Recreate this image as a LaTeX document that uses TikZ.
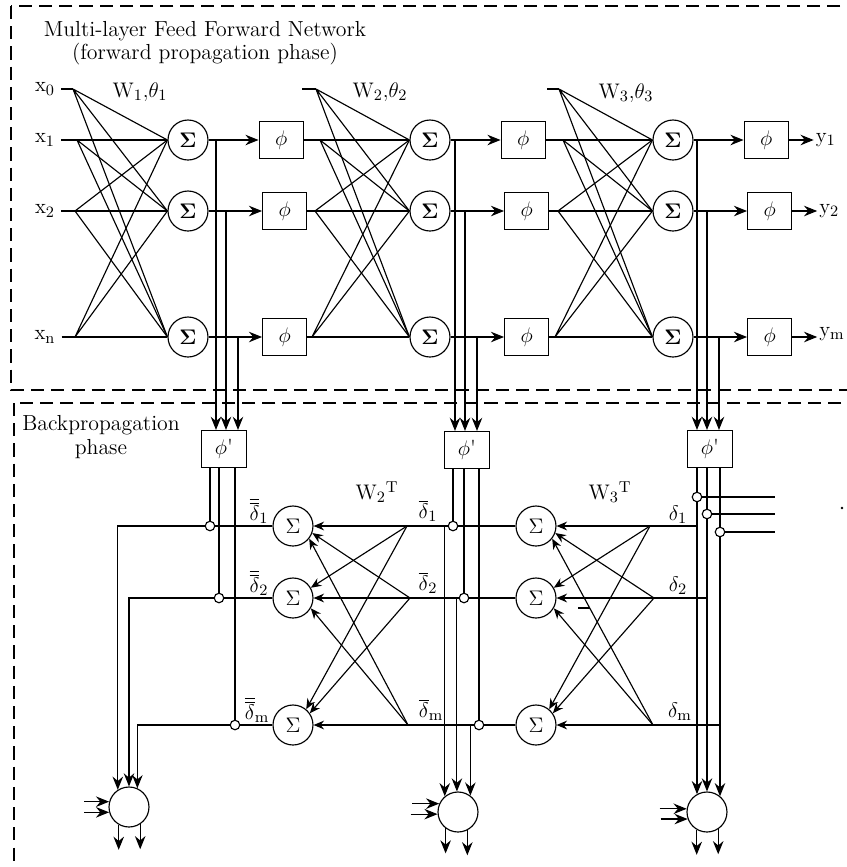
\documentclass[tikz,border=0pt]{standalone}
\usepackage{tikz}
\usetikzlibrary{arrows.meta,positioning,calc}
\tikzstyle{sumnode} = [circle, draw, line width=0.65pt, minimum size=0.8cm, inner sep=0pt]
\tikzstyle{actnode} = [rectangle, draw, line width=0.65pt, minimum width=0.88cm, minimum height=0.74cm, inner sep=0pt]
\tikzstyle{dernode} = [actnode, minimum width=0.9cm]
\tikzstyle{mulnode} = [circle, draw, line width=0.65pt, minimum size=0.19cm, inner sep=0pt]
\tikzstyle{updnode} = [circle, draw, line width=0.65pt, minimum size=0.8cm, inner sep=0pt]
\tikzstyle{link} = [line width=0.65pt]
\tikzstyle{flow} = [line width=0.65pt, -{Stealth[length=7.5pt,width=6pt,inset=2.5pt]}]
\tikzstyle{backflow} = [line width=0.65pt, -{Stealth[length=6pt,width=5pt,inset=2pt]}]
\tikzstyle{phasebox} = [line width=0.65pt, dash pattern=on 7.5pt off 4pt]

\begin{document}
\begin{tikzpicture}[x=0.02cm, y=-0.02cm, font=\fontsize{12.4}{13.4}\selectfont]
\useasboundingbox (0,0) rectangle (847,867);

% Phase frames
\draw[phasebox] (11,6) rectangle (870,390);
\draw[phasebox] (14,403) rectangle (870,890);

% Title
\node[align=center] (title) at (205,43) {Multi-layer Feed Forward Network\\(forward propagation phase)};

% Inputs
\node (x0) at (45,89) {$\mathrm{x}_0$};
\node (x1) at (45,140) {$\mathrm{x}_1$};
\node (x2) at (45,211) {$\mathrm{x}_2$};
\node (xn) at (45,337) {$\mathrm{x}_\mathrm{n}$};
\coordinate (fan10) at (73,89);
\coordinate (fan11) at (77,140);
\coordinate (fan12) at (75,211);
\coordinate (fan13) at (75,337);

% Layer 1
\node[sumnode] (sum11) at (188,140) {$\mathbf{\Sigma}$};
\node[sumnode] (sum12) at (188,211) {$\mathbf{\Sigma}$};
\node[sumnode] (sum13) at (188,337) {$\mathbf{\Sigma}$};
\node[actnode, right=1cm of sum11] (phi11) {$\phi$};
\node[actnode, right=1.07cm of sum12] (phi12) {$\phi$};
\node[actnode, right=1.07cm of sum13] (phi13) {$\phi$};
\node (w1) at (140,92) {$\mathrm{W}_1{,}\theta_1$};

\draw[link] (x0) -- (fan10);
\draw[link] (x1) -- (sum11);
\draw[link] (x2) -- (sum12);
\draw[link] (xn) -- (sum13);
\draw[link] (fan10) -- (sum11.west) (fan10) -- (sum12.west) (fan10) -- (sum13.west);
\draw[link] (fan11) -- (sum12.west) (fan11) -- (sum13.west);
\draw[link] (fan12) -- (sum11.west) (fan12) -- (sum13.west);
\draw[link] (fan13) -- (sum11.west) (fan13) -- (sum12.west);
\draw[flow] (sum11) -- (phi11);
\draw[flow] (sum12) -- (phi12);
\draw[flow] (sum13) -- (phi13);

% Layer 2
\coordinate (bias2) at (302,89);
\coordinate (fan20) at (316,89);
\coordinate (fan21) at (320,140);
\coordinate (fan22) at (315,211);
\coordinate (fan23) at (312,337);
\node[sumnode] (sum21) at (430,140) {$\mathbf{\Sigma}$};
\node[sumnode] (sum22) at (430,211) {$\mathbf{\Sigma}$};
\node[sumnode] (sum23) at (430,337) {$\mathbf{\Sigma}$};
\node[actnode, right=1cm of sum21] (phi21) {$\phi$};
\node[actnode, right=1.07cm of sum22] (phi22) {$\phi$};
\node[actnode, right=1.07cm of sum23] (phi23) {$\phi$};
\node (w2) at (380,92) {$\mathrm{W}_2{,}\theta_2$};

\draw[link] (bias2) -- (fan20);
\draw[link] (phi11) -- (sum21);
\draw[link] (phi12) -- (sum22);
\draw[link] (phi13) -- (sum23);
\draw[link] (fan20) -- (sum21.west) (fan20) -- (sum22.west) (fan20) -- (sum23.west);
\draw[link] (fan21) -- (sum22.west) (fan21) -- (sum23.west);
\draw[link] (fan22) -- (sum21.west) (fan22) -- (sum23.west);
\draw[link] (fan23) -- (sum21.west) (fan23) -- (sum22.west);
\draw[flow] (sum21) -- (phi21);
\draw[flow] (sum22) -- (phi22);
\draw[flow] (sum23) -- (phi23);

% Layer 3
\coordinate (bias3) at (547,89);
\coordinate (fan30) at (559,89);
\coordinate (fan31) at (563,140);
\coordinate (fan32) at (558,211);
\coordinate (fan33) at (555,337);
\node[sumnode] (sum31) at (673,140) {$\mathbf{\Sigma}$};
\node[sumnode] (sum32) at (673,211) {$\mathbf{\Sigma}$};
\node[sumnode] (sum33) at (673,337) {$\mathbf{\Sigma}$};
\node[actnode, right=1cm of sum31] (phi31) {$\phi$};
\node[actnode, right=1.07cm of sum32] (phi32) {$\phi$};
\node[actnode, right=1.07cm of sum33] (phi33) {$\phi$};
\node (w3) at (626,93) {$\mathrm{W}_3{,}\theta_3$};

\draw[link] (bias3) -- (fan30);
\draw[link] (phi21) -- (sum31);
\draw[link] (phi22) -- (sum32);
\draw[link] (phi23) -- (sum33);
\draw[link] (fan30) -- (sum31.west) (fan30) -- (sum32.west) (fan30) -- (sum33.west);
\draw[link] (fan31) -- (sum32.west) (fan31) -- (sum33.west);
\draw[link] (fan32) -- (sum31.west) (fan32) -- (sum33.west);
\draw[link] (fan33) -- (sum31.west) (fan33) -- (sum32.west);
\draw[flow] (sum31) -- (phi31);
\draw[flow] (sum32) -- (phi32);
\draw[flow] (sum33) -- (phi33);

% Outputs
\node[right=0.5cm of phi31, inner sep=1pt] (y1) {$\mathrm{y}_1$};
\node[right=0.5cm of phi32, inner sep=1pt] (y2) {$\mathrm{y}_2$};
\node[right=0.5cm of phi33, inner sep=1pt, yshift=0.06cm] (ym) {$\mathrm{y}_\mathrm{m}$};
\draw[flow] (phi31) -- (y1);
\draw[flow] (phi32) -- (y2);
\draw[flow] (phi33) -- (phi33 -| ym.west);

% Derivative boxes
\node[dernode] (dphi1) at (224,449) {$\phi$\textquotesingle};
\node[dernode] (dphi2) at (467,450) {$\phi$\textquotesingle};
\node[dernode] (dphi3) at (710,449) {$\phi$\textquotesingle};
\coordinate (tap11) at (216,140);
\coordinate (tap12) at (226,211);
\coordinate (tap13) at (238,337);
\coordinate (tap21) at (455,140);
\coordinate (tap22) at (465,211);
\coordinate (tap23) at (477,337);
\coordinate (tap31) at (697,140);
\coordinate (tap32) at (707,211);
\coordinate (tap33) at (719,337);
\draw[flow] (tap11) -- (tap11 |- dphi1.north);
\draw[flow] (tap12) -- (tap12 |- dphi1.north);
\draw[flow] (tap13) -- (tap13 |- dphi1.north);
\draw[flow] (tap21) -- (tap21 |- dphi2.north);
\draw[flow] (tap22) -- (tap22 |- dphi2.north);
\draw[flow] (tap23) -- (tap23 |- dphi2.north);
\draw[flow] (tap31) -- (tap31 |- dphi3.north);
\draw[flow] (tap32) -- (tap32 |- dphi3.north);
\draw[flow] (tap33) -- (tap33 |- dphi3.north);

% Backpropagation
\node[align=center] (backlbl) at (101,437) {Backpropagation\\phase};

\node[sumnode] (bs21) at (293,526) {$\Sigma$};
\node[sumnode] (bs22) at (293,598) {$\Sigma$};
\node[sumnode] (bs23) at (293,725) {$\Sigma$};
\node[sumnode] (bs31) at (536,526) {$\Sigma$};
\node[sumnode] (bs32) at (536,598) {$\Sigma$};
\node[sumnode] (bs33) at (536,725) {$\Sigma$};

\node[mulnode] (m11) at (210,526) {};
\node[mulnode] (m12) at (219,598) {};
\node[mulnode] (m13) at (235,725) {};
\node[mulnode] (m21) at (453,526) {};
\node[mulnode] (m22) at (464,598) {};
\node[mulnode] (m23) at (479,725) {};
\node[mulnode] (m31) at (697,497) {};
\node[mulnode] (m32) at (707,514) {};
\node[mulnode] (m33) at (720,532) {};

\node[updnode] (upd1) at (129,807) {};
\node[updnode] (upd2) at (458,812) {};
\node[updnode] (upd3) at (707,812) {};

\node (wt2) at (377,492) {$\mathrm{W}_2{}^\mathrm{T}$};
\node (wt3) at (610,492) {$\mathrm{W}_3{}^\mathrm{T}$};
\node (dd1) at (259,511) {$\overline{\overline{\delta}}_1$};
\node (dd2) at (259,583) {$\overline{\overline{\delta}}_2$};
\node (ddm) at (257,710) {$\overline{\overline{\delta}}_\mathrm{m}$};
\node (db1) at (428,511) {$\overline{\delta}_1$};
\node (db2) at (428,583) {$\overline{\delta}_2$};
\node (dbm) at (431,710) {$\overline{\delta}_\mathrm{m}$};
\node (d1) at (678,515) {$\delta_1$};
\node (d2) at (678,586) {$\delta_2$};
\node (dm) at (680,712) {$\delta_\mathrm{m}$};

% Output side derivative lines
\coordinate (err1) at (775,497);
\coordinate (err2) at (775,514);
\coordinate (err3) at (775,532);
\draw[link] (m31 |- dphi3.south) -- (m31);
\draw[link] (m32 |- dphi3.south) -- (m32);
\draw[link] (m33 |- dphi3.south) -- (m33);
\draw[link] (m31) -- (err1);
\draw[link] (m32) -- (err2);
\draw[link] (m33) -- (err3);
\draw[flow] (m31) -- (m31 |- upd3.120);
\draw[flow] (m32) -- (m32 |- upd3.90);
\draw[flow] (m33) -- (m33 |- upd3.50);
\draw[backflow] (m31 |- bs31) -- (bs31);
\draw[backflow] (m32 |- bs32) -- (bs32);
\draw[backflow] (m33 |- bs33) -- (bs33);

% W3 transpose
\coordinate (bf31) at (650,526);
\coordinate (bf32) at (654,598);
\coordinate (bf33) at (653,725);
\draw[backflow] (bf32) -- (bs31.-20);
\draw[backflow] (bf33) -- (bs31.-38);
\draw[backflow] (bf31) -- (bs32.30);
\draw[backflow] (bf33) -- (bs32.-30);
\draw[backflow] (bf31) -- (bs33.50);
\draw[backflow] (bf32) -- (bs33.35);

% Hidden layer 2 derivative lines
\draw[link] (m21 |- dphi2.south) -- (m21);
\draw[link] (m22 |- dphi2.south) -- (m22);
\draw[link] (m23 |- dphi2.south) -- (m23);
\draw[link] (bs31) -- (m21);
\draw[link] (bs32) -- (m22);
\draw[link] (bs33) -- (m23);
\draw[backflow] (m21) -- (bs21);
\draw[backflow] (m22) -- (bs22);
\draw[backflow] (m23) -- (bs23);
\draw[flow] (upd2.130 |- bs21) -- (upd2.130);
\draw[flow] (upd2.93 |- bs22) -- (upd2.93);
\draw[flow] (upd2.53 |- bs23) -- (upd2.53);

% W2 transpose
\coordinate (bf21) at (407,526);
\coordinate (bf22) at (410,598);
\coordinate (bf23) at (408,725);
\draw[backflow] (bf22) -- (bs21.-20);
\draw[backflow] (bf23) -- (bs21.-38);
\draw[backflow] (bf21) -- (bs22.30);
\draw[backflow] (bf23) -- (bs22.-30);
\draw[backflow] (bf21) -- (bs23.50);
\draw[backflow] (bf22) -- (bs23.35);

% Hidden layer 1 derivative lines
\draw[link] (m11 |- dphi1.south) -- (m11);
\draw[link] (m12 |- dphi1.south) -- (m12);
\draw[link] (m13 |- dphi1.south) -- (m13);
\draw[link] (bs21) -- (m11);
\draw[link] (bs22) -- (m12);
\draw[link] (bs23) -- (m13);
\draw[flow] (m11) -| (upd1.123);
\draw[flow] (m12) -| (upd1.90);
\draw[flow] (m13) -| (upd1.66);

% Weight update units
\coordinate[left=0.5cm of upd1.165] (in1a);
\coordinate[left=0.5cm of upd1.195] (in1b);
\coordinate[below=0.5cm of upd1.240] (out1a);
\coordinate[below=0.5cm of upd1.303] (out1b);
\draw[flow] (in1a) -- (upd1.165);
\draw[flow] (in1b) -- (upd1.195);
\draw[flow] (upd1.240) -- (out1a);
\draw[flow] (upd1.303) -- (out1b);

\coordinate[left=0.54cm of upd2.156] (in2a);
\coordinate[left=0.54cm of upd2.186] (in2b);
\coordinate[below=0.5cm of upd2.233] (out2a);
\coordinate[below=0.5cm of upd2.297] (out2b);
\draw[flow] (in2a) -- (upd2.156);
\draw[flow] (in2b) -- (upd2.186);
\draw[flow] (upd2.233) -- (out2a);
\draw[flow] (upd2.297) -- (out2b);

\coordinate[left=0.54cm of upd3.171] (in3a);
\coordinate[left=0.54cm of upd3.200] (in3b);
\coordinate[below=0.5cm of upd3.240] (out3a);
\coordinate[below=0.5cm of upd3.303] (out3b);
\draw[flow] (in3a) -- (upd3.171);
\draw[flow] (in3b) -- (upd3.200);
\draw[flow] (upd3.240) -- (out3a);
\draw[flow] (upd3.303) -- (out3b);

% stray marks
\draw[link] (578,608) -- (590,608);
\fill (842,508) circle (0.8pt);

\end{tikzpicture}
\end{document}
